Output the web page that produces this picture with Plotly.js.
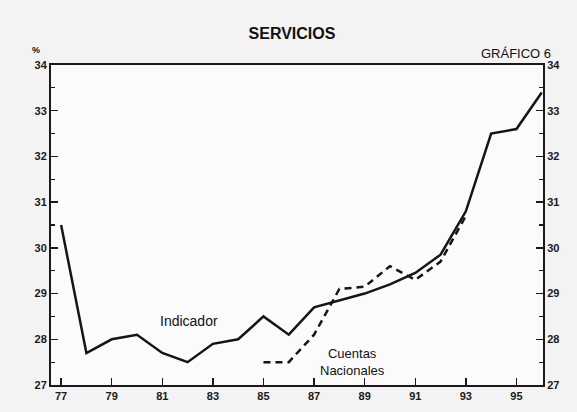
<!DOCTYPE html>
<html>
<head>
<meta charset="utf-8">
<script src="https://cdn.plot.ly/plotly-3.0.1.min.js"></script>
<style>html,body{margin:0;padding:0;background:#f2f2f2;}#chart{width:577px;height:412px;}</style>
</head>
<body>
<div id="chart"></div>
<script>
const years = [77,78,79,80,81,82,83,84,85,86,87,88,89,90,91,92,93,94,95,96];
const indicador = [30.5,27.7,28.0,28.1,27.7,27.5,27.9,28.0,28.5,28.1,28.7,28.85,29.0,29.2,29.45,29.85,30.8,32.5,32.6,33.4];
const cnYears = [85,86,87,88,89,90,91,92,93];
const cuentasNacionales = [27.5,27.5,28.1,29.1,29.15,29.6,29.3,29.7,30.7];
const xTicks = [77,79,81,83,85,87,89,91,93,95];
const yTicks = [27,28,29,30,31,32,33,34];

const fam = 'Liberation Sans, Arial, sans-serif';
const axisCommon = {
  showgrid:false, zeroline:false, showline:true, linecolor:'#1a1a1a', linewidth:2,
  ticks:'inside', ticklen:7, tickwidth:1.5, tickcolor:'#1a1a1a',
  tickfont:{family:fam, size:11, color:'#1a1a1a', weight:'bold'}
};

const traces = [
  {x:years, y:indicador, type:'scatter', mode:'lines', name:'Indicador',
   line:{color:'#151515', width:2.5}, hoverinfo:'skip'},
  {x:cnYears, y:cuentasNacionales, type:'scatter', mode:'lines', name:'Cuentas Nacionales',
   line:{color:'#151515', width:2.5, dash:'7px,5px'}, hoverinfo:'skip'},
  {x:years, y:indicador, type:'scatter', mode:'lines', yaxis:'y2', showlegend:false,
   line:{width:0}, opacity:0, hoverinfo:'skip'}
];

const layout = {
  width:577, height:412,
  margin:{l:51, r:34, t:65, b:27},
  paper_bgcolor:'#f3f3f3', plot_bgcolor:'#fbfbfb',
  showlegend:false,
  font:{family:fam, size:11, color:'#1a1a1a'},
  title:{text:'<b>SERVICIOS</b>', x:0.506, xanchor:'center', y:0.92, yanchor:'middle',
         font:{family:fam, size:16, color:'#111'}},
  xaxis:Object.assign({}, axisCommon, {
    range:[76.6, 96.05], tickmode:'array', tickvals:xTicks,
    ticktext:xTicks.map(String), mirror:true
  }),
  yaxis:Object.assign({}, axisCommon, {
    range:[27, 34], tickmode:'array', tickvals:yTicks, ticktext:yTicks.map(String),
    minor:{dtick:0.5, ticks:'inside', ticklen:4, tickcolor:'#1a1a1a', tickwidth:1.2}
  }),
  yaxis2:Object.assign({}, axisCommon, {
    range:[27, 34], overlaying:'y', side:'right', tickmode:'array', tickvals:yTicks,
    ticktext:yTicks.map(String),
    minor:{dtick:0.5, ticks:'inside', ticklen:4, tickcolor:'#1a1a1a', tickwidth:1.2}
  }),
  annotations:[
    {text:'GRÁFICO 6', xref:'paper', yref:'paper', x:1.0, y:1.0, xanchor:'right', yanchor:'bottom',
     xshift:10, yshift:2, showarrow:false, font:{family:fam, size:13, color:'#111'}},
    {text:'<b>%</b>', xref:'paper', yref:'paper', x:-0.03, y:1.0, xanchor:'center', yanchor:'bottom',
     yshift:8, showarrow:false, font:{family:fam, size:9, color:'#111'}},
    {text:'Indicador', xref:'x', yref:'y', x:82.06, y:28.4, xanchor:'center', yanchor:'middle',
     showarrow:false, font:{family:fam, size:14, color:'#111'}},
    {text:'Cuentas<br>Nacionales', xref:'x', yref:'y', x:88.5, y:27.5, xanchor:'center', yanchor:'middle',
     showarrow:false, font:{family:fam, size:13, color:'#111'}}
  ]
};

Plotly.newPlot('chart', traces, layout, {staticPlot:true, displayModeBar:false});
</script>
</body>
</html>
